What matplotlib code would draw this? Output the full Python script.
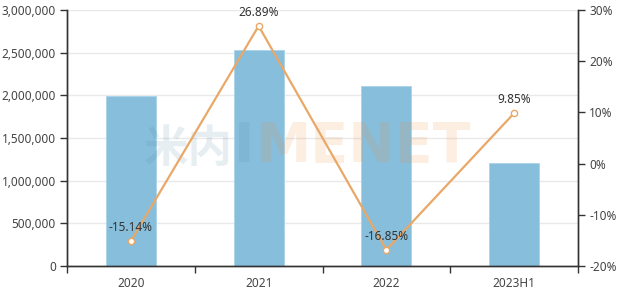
import matplotlib
matplotlib.use("Agg")
import matplotlib.pyplot as plt
from matplotlib.ticker import FuncFormatter, FixedLocator
import numpy as np

plt.rcParams['font.family'] = ['Noto Sans', 'Noto Sans CJK SC', 'DejaVu Sans']

categories = ["2020", "2021", "2022", "2023H1"]
sales = [1995000, 2535000, 2109000, 1203000]
growth = [-15.14, 26.89, -16.85, 9.85]
growth_labels = ["-15.14%", "26.89%", "-16.85%", "9.85%"]
left_ticks = [0, 500000, 1000000, 1500000, 2000000, 2500000, 3000000]
right_ticks = [-20, -10, 0, 10, 20, 30]

BAR = "#86BEDB"
LINE = "#E9A867"
AX = "#333333"
TXT = "#444444"

fig = plt.figure(figsize=(6.21, 2.91), dpi=100)
ax = fig.add_axes([67/621, 1-266/291, (578-67)/621, (266-10)/291])
x = np.arange(len(categories))

ax.bar(x, sales, width=0.39, color=BAR, edgecolor="#A9D3E8", linewidth=0.6, zorder=2)
ax.set_xlim(-0.5, len(categories)-0.5)
ax.set_ylim(left_ticks[0], left_ticks[-1])
ax.set_yticks(left_ticks)
ax.yaxis.set_major_formatter(FuncFormatter(lambda v, p: f"{int(v):,}"))
ax.grid(axis='y', color="#E9E9E9", linewidth=1, zorder=0)
ax.set_axisbelow(True)

ax.set_xticks(x)
ax.set_xticklabels(categories)
ax.xaxis.set_minor_locator(FixedLocator(np.arange(-0.5, len(categories), 1.0)))
ax.tick_params(axis='x', which='major', length=0, pad=8, labelsize=8.5, colors=TXT)
ax.tick_params(axis='x', which='minor', length=5, color=AX, width=1)
ax.tick_params(axis='y', length=5, color=AX, width=1, labelsize=8.5, labelcolor=TXT, pad=3)

ax.spines['top'].set_visible(False)
for s in ['left', 'bottom', 'right']:
    ax.spines[s].set_color(AX)
    ax.spines[s].set_linewidth(1)

ax2 = ax.twinx()
ax2.set_ylim(right_ticks[0], right_ticks[-1])
ax2.set_yticks(right_ticks)
ax2.yaxis.set_major_formatter(FuncFormatter(lambda v, p: f"{int(v)}%"))
ax2.tick_params(axis='y', length=5, color=AX, width=1, labelsize=8.5, labelcolor=TXT, pad=3)
ax2.spines['top'].set_visible(False)
for s in ['left', 'bottom', 'right']:
    ax2.spines[s].set_color(AX)
    ax2.spines[s].set_linewidth(1)

# watermark
wm_y = (266 - 162) / 256
ax2.text((233 - 67) / 511, wm_y, "米内", transform=ax.transAxes, fontsize=32,
         fontweight='bold', color="#588EA8", alpha=0.15, ha='right', va='baseline',
         family=['Noto Sans CJK SC', 'DejaVu Sans'], zorder=3)
ax2.text((234 - 67) / 511, wm_y, "I", transform=ax.transAxes, fontsize=40,
         fontweight='bold', color="#588EA8", alpha=0.15, ha='left', va='baseline',
         family=['DejaVu Sans'], zorder=3)
ax2.text((256 - 67) / 511, wm_y, "MENET", transform=ax.transAxes, fontsize=40,
         fontweight='bold', color="#F28E3E", alpha=0.15, ha='left', va='baseline',
         family=['DejaVu Sans'], zorder=3)

ax2.plot(x, growth, color=LINE, linewidth=1.6, marker='o', markersize=4.5,
         markerfacecolor='white', markeredgecolor=LINE, markeredgewidth=1, zorder=5)
for xi, g, lab in zip(x, growth, growth_labels):
    ax2.annotate(lab, (xi, g), xytext=(0, 9.5), textcoords='offset points',
                 ha='center', va='center', fontsize=8.5, color="#333333", zorder=6)

fig.savefig("out.png", dpi=100)
